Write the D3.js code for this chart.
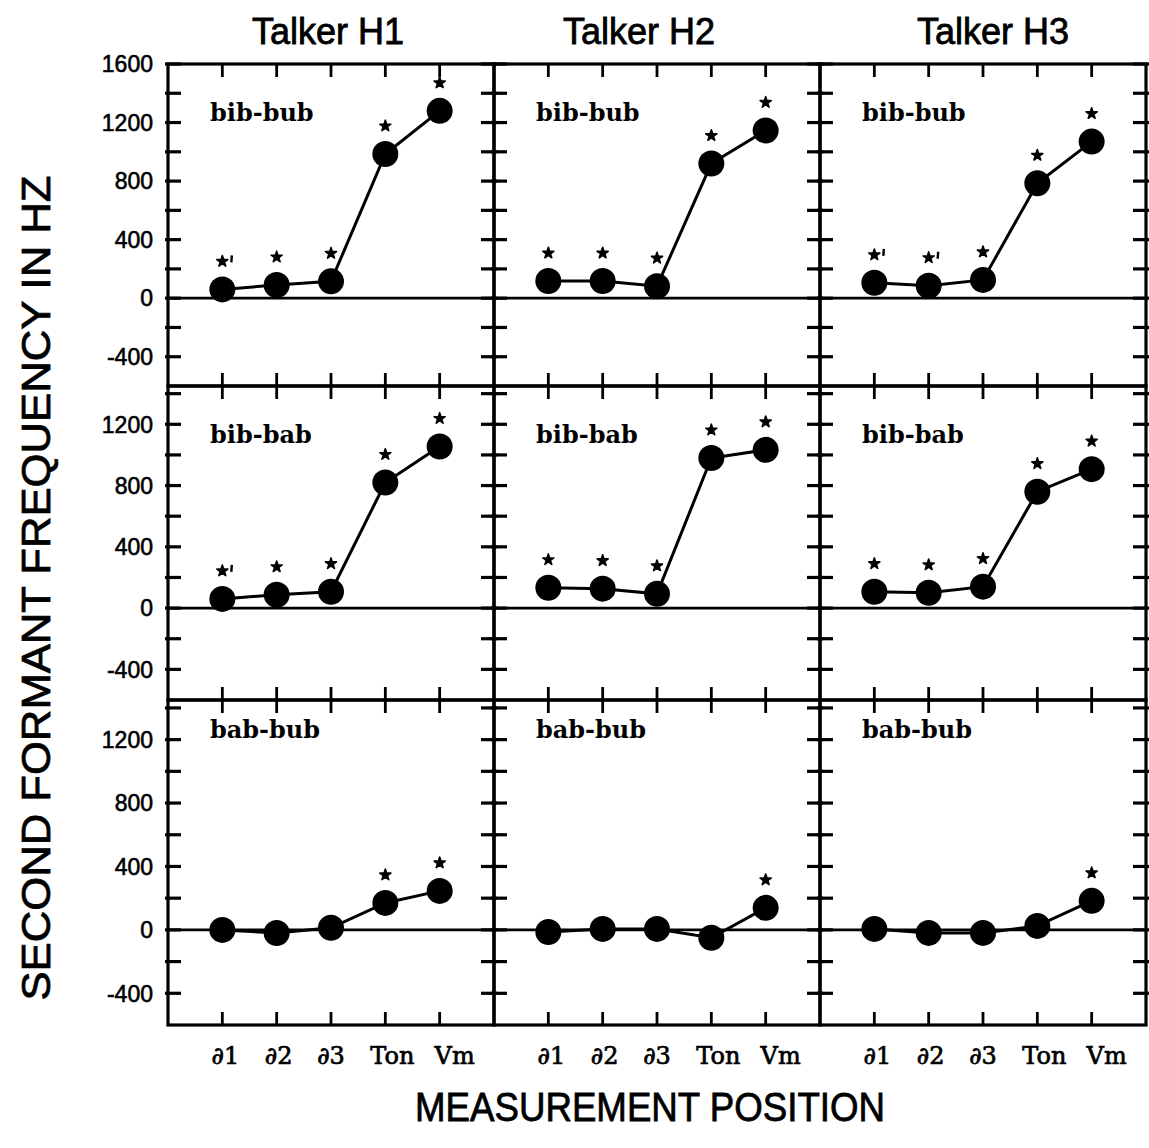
<!DOCTYPE html>
<html>
<head>
<meta charset="utf-8">
<script src="https://cdn.jsdelivr.net/npm/d3@7"></script>
<style>
  html, body { margin: 0; padding: 0; background: #fff; }
  svg { display: block; }
</style>
</head>
<body>
<svg id="chart" width="1149" height="1148"></svg>
<script>
// Measurement positions along the syllable
const positions = ["∂1", "∂2", "∂3", "Ton", "Vm"];
const talkers = ["Talker H1", "Talker H2", "Talker H3"];
const contrasts = ["bib-bub", "bib-bab", "bab-bub"];

// F2 difference (Hz) between the two syllables of each contrast, per talker
const bibBubH1 = [60, 90, 115, 985, 1280];
const bibBubH2 = [117, 117, 82, 920, 1146];
const bibBubH3 = [105, 85, 125, 785, 1070];
const bibBabH1 = [60, 87, 107, 820, 1055];
const bibBabH2 = [133, 127, 93, 980, 1033];
const bibBabH3 = [107, 100, 140, 760, 907];
const babBubH1 = [0, -20, 13, 170, 246];
const babBubH2 = [-13, 6, 6, -50, 139];
const babBubH3 = [6, -19, -19, 25, 183];

// Significance marks: 0 = none, 1 = star, 2 = star with prime
const sigBibBubH1 = [2, 1, 1, 1, 1];
const sigBibBubH2 = [1, 1, 1, 1, 1];
const sigBibBubH3 = [2, 2, 1, 1, 1];
const sigBibBabH1 = [2, 1, 1, 1, 1];
const sigBibBabH2 = [1, 1, 1, 1, 1];
const sigBibBabH3 = [1, 1, 1, 1, 1];
const sigBabBubH1 = [0, 0, 0, 1, 1];
const sigBabBubH2 = [0, 0, 0, 0, 1];
const sigBabBubH3 = [0, 0, 0, 0, 1];

// Axis tick labels
const yTickLabelsTop = [1600, 1200, 800, 400, 0, -400];
const yTickLabelsLower = [1200, 800, 400, 0, -400];
const yDomainTop = [-600, 1600];
const yDomainLower = [-600, 1450];

const values = [
  [bibBubH1, bibBubH2, bibBubH3],
  [bibBabH1, bibBabH2, bibBabH3],
  [babBubH1, babBubH2, babBubH3]
];
const marks = [
  [sigBibBubH1, sigBibBubH2, sigBibBubH3],
  [sigBibBabH1, sigBibBabH2, sigBibBabH3],
  [sigBabBubH1, sigBabBubH2, sigBabBubH3]
];

// ---- layout ----
const colLeft = [168, 494, 820];
const colWidth = 326;
const rowTop = [64, 386, 700];
const rowBottom = [386, 700, 1025];
const rowDomains = [yDomainTop, yDomainLower, yDomainLower];
const rowTickLabels = [yTickLabelsTop, yTickLabelsLower, yTickLabelsLower];
const labelDrop = [57, 57, 38];
const titleShift = [-3, -18, 10];
const posLabelShift = [3, 2, 0, 7, 15];

const svg = d3.select("#chart");
const sans = "'Liberation Sans', Arial, Helvetica, sans-serif";
const serif = "'DejaVu Serif', 'Liberation Serif', serif";

const tickIn = 13;
const star = d3.symbol().type(d3.symbolStar).size(38);

for (let r = 0; r < 3; r++) {
  const y = d3.scaleLinear().domain(rowDomains[r]).range([rowBottom[r], rowTop[r]]);
  const yTicks = d3.range(-400, rowDomains[r][1] + 1, 200);

  for (let c = 0; c < 3; c++) {
    const x = d3.scaleLinear().domain([0, 6]).range([colLeft[c], colLeft[c] + colWidth]);
    const g = svg.append("g");
    const x0 = colLeft[c], x1 = colLeft[c] + colWidth;
    const y0 = rowTop[r], y1 = rowBottom[r];

    // frame
    g.append("rect")
      .attr("x", x0).attr("y", y0)
      .attr("width", colWidth).attr("height", y1 - y0)
      .attr("fill", "none").attr("stroke", "#000").attr("stroke-width", 3.2);

    // x ticks, top and bottom, pointing inward
    positions.forEach((p, i) => {
      const xx = x(i + 1);
      g.append("line").attr("x1", xx).attr("x2", xx).attr("y1", y0).attr("y2", y0 + tickIn)
        .attr("stroke", "#000").attr("stroke-width", 2.8);
      g.append("line").attr("x1", xx).attr("x2", xx).attr("y1", y1).attr("y2", y1 - tickIn)
        .attr("stroke", "#000").attr("stroke-width", 2.8);
    });

    // y ticks, left and right, every 200 Hz
    yTicks.forEach(v => {
      const yy = y(v);
      g.append("line").attr("x1", x0 - 3).attr("x2", x0 + tickIn).attr("y1", yy).attr("y2", yy)
        .attr("stroke", "#000").attr("stroke-width", 3.2);
      g.append("line").attr("x1", x1 + 3).attr("x2", x1 - tickIn).attr("y1", yy).attr("y2", yy)
        .attr("stroke", "#000").attr("stroke-width", 3.2);
    });

    // zero reference line
    g.append("line").attr("x1", x0).attr("x2", x1).attr("y1", y(0)).attr("y2", y(0))
      .attr("stroke", "#000").attr("stroke-width", 2.8);

    const data = values[r][c].map((v, i) => ({ i, v, s: marks[r][c][i] }));

    // connecting line
    g.append("path")
      .datum(data)
      .attr("fill", "none").attr("stroke", "#000").attr("stroke-width", 3)
      .attr("d", d3.line().x(d => x(d.i + 1)).y(d => y(d.v)));

    // points
    g.selectAll("circle.pt").data(data).enter().append("circle")
      .attr("class", "pt")
      .attr("cx", d => x(d.i + 1)).attr("cy", d => y(d.v)).attr("r", 13)
      .attr("fill", "#000");

    // significance stars
    const sig = data.filter(d => d.s > 0);
    g.selectAll("path.star").data(sig).enter().append("path")
      .attr("class", "star")
      .attr("d", star)
      .attr("transform", d => `translate(${x(d.i + 1)},${y(d.v) - 28})`)
      .attr("fill", "#000").attr("stroke", "#000").attr("stroke-width", 1.6)
      .attr("stroke-linejoin", "round");
    g.selectAll("line.prime").data(sig.filter(d => d.s === 2)).enter().append("line")
      .attr("class", "prime")
      .attr("x1", d => x(d.i + 1) + 9.5).attr("x2", d => x(d.i + 1) + 9)
      .attr("y1", d => y(d.v) - 34).attr("y2", d => y(d.v) - 27)
      .attr("stroke", "#000").attr("stroke-width", 2.4);

    // contrast label
    g.append("text")
      .attr("x", x0 + 42).attr("y", y0 + labelDrop[r])
      .attr("font-family", serif).attr("font-weight", "bold").attr("font-size", 24)
      .text(contrasts[r]);

    // y tick labels on the first column
    if (c === 0) {
      rowTickLabels[r].forEach(v => {
        g.append("text")
          .attr("x", x0 - 15).attr("y", y(v)).attr("dy", "0.36em")
          .attr("text-anchor", "end")
          .attr("font-family", sans).attr("font-size", 23)
          .attr("stroke", "#000").attr("stroke-width", 0.6)
          .text(v);
      });
    }

    // position labels under the bottom row
    if (r === 2) {
      positions.forEach((p, i) => {
        g.append("text")
          .attr("x", x(i + 1) + posLabelShift[i]).attr("y", 1064)
          .attr("text-anchor", "middle")
          .attr("font-family", serif).attr("font-size", 24)
          .attr("stroke", "#000").attr("stroke-width", 0.7)
          .text(p);
      });
    }
  }
}

// talker titles
talkers.forEach((t, c) => {
  svg.append("text")
    .attr("x", colLeft[c] + colWidth / 2 + titleShift[c]).attr("y", 44)
    .attr("text-anchor", "middle")
    .attr("font-family", sans).attr("font-size", 36)
    .attr("stroke", "#000").attr("stroke-width", 0.8)
    .text(t);
});

// axis titles
svg.append("text")
  .attr("x", 650).attr("y", 1121)
  .attr("text-anchor", "middle")
  .attr("font-family", sans).attr("font-size", 41)
  .attr("stroke", "#000").attr("stroke-width", 0.8)
  .attr("textLength", 470).attr("lengthAdjust", "spacingAndGlyphs")
  .text("MEASUREMENT  POSITION");

svg.append("text")
  .attr("transform", "translate(50,588) rotate(-90)")
  .attr("text-anchor", "middle")
  .attr("font-family", sans).attr("font-size", 41)
  .attr("stroke", "#000").attr("stroke-width", 0.8)
  .attr("textLength", 825).attr("lengthAdjust", "spacingAndGlyphs")
  .text("SECOND  FORMANT  FREQUENCY  IN  HZ");
</script>
</body>
</html>
